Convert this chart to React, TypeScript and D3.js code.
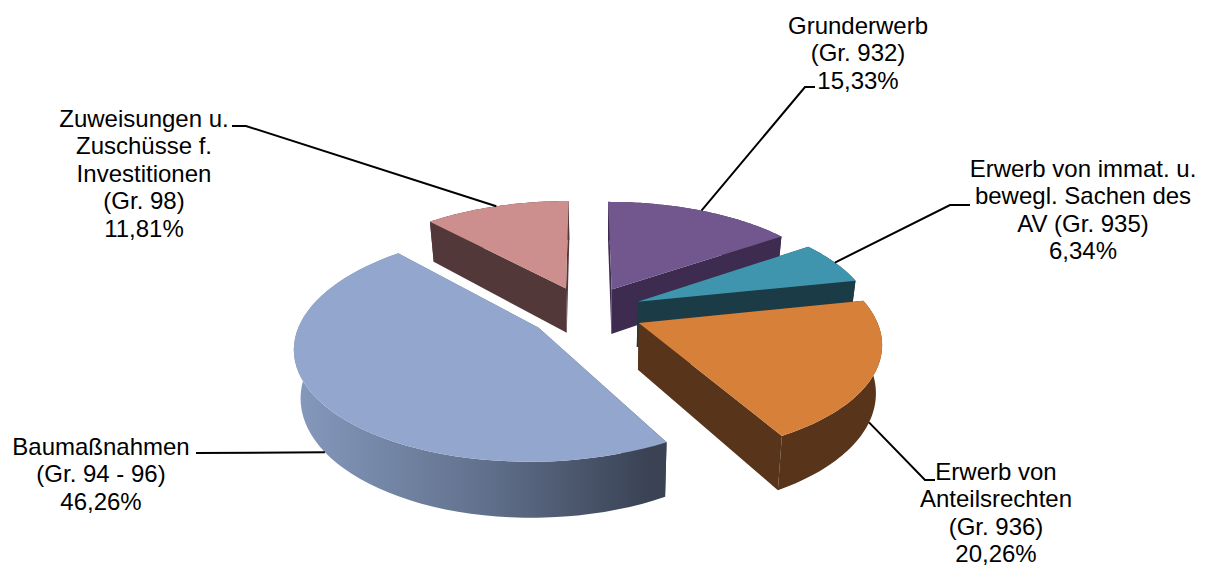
import * as d3 from "d3";

// Budget shares, clockwise from twelve o'clock
const categories = [
  "Grunderwerb",
  "ImmatSachen",
  "Anteilsrechte",
  "Baumassnahmen",
  "Zuweisungen",
];
const shares = [15.33, 6.34, 20.26, 46.26, 11.81];
const labelLines = [
  ["Grunderwerb", "(Gr. 932)"],
  ["Erwerb von immat. u.", "bewegl. Sachen des", "AV (Gr. 935)"],
  ["Erwerb von", "Anteilsrechten", "(Gr. 936)"],
  ["Baumaßnahmen", "(Gr. 94 - 96)"],
  ["Zuweisungen u.", "Zuschüsse f.", "Investitionen", "(Gr. 98)"],
];
const topColors = ["#72578E", "#4095AE", "#D7803A", "#93A7CE", "#CD8F8D"];
const wallColors = ["#3D2B50", "#1B3B46", "#57341A", "url(#frontWall)", "#533839"];
const labelCenters = [
  [858, 25],
  [1083, 168],
  [996, 471],
  [101, 446],
  [144, 118],
];
// Elbow and end of each leader, running out from the slice to its label
const leaderRuns = [
  [[805, 87], [815, 87]],
  [[950, 205], [970, 205]],
  [[925, 480], [935, 480]],
  [[196, 453], [196, 453]],
  [[246, 126], [232, 126]],
];
// Front-facing slices anchor their leader on the lower rim
const leaderOnLowerRim = [false, false, true, true, false];
// Draw order, back to front
const paintOrder = [4, 0, 1, 2, 3];

// Camera and pie geometry
const CX = 586;
const CY = 312;
const SCALE_X = 235;
const SCALE_Y = 107.8;
const PERSPECTIVE = 0.156;
const EXPLODE = 0.243;
const THICKNESS = 46;
const TAPER = 0.978;
const TAPER_X = 600;
const LINE_HEIGHT = 27.6;

type P = [number, number];

const scaleAt = (v: number) => 1 / (1 - PERSPECTIVE * v);
const project = (u: number, v: number): P => [
  CX + SCALE_X * u * scaleAt(v),
  CY + SCALE_Y * v * scaleAt(v),
];
const lower = (u: number, v: number): P => {
  const [x, y] = project(u, v);
  return [TAPER_X + (x - TAPER_X) * TAPER, y + THICKNESS * scaleAt(v)];
};

const path = d3.line<P>().x((d) => d[0]).y((d) => d[1]);
const closed = (pts: P[]) => (path(pts) ?? "") + "Z";

const arcs = d3
  .pie<number>()
  .sort(null)
  .value((d) => d)(shares);

const slices = arcs.map((a, i) => {
  const mid = (a.startAngle + a.endAngle) / 2;
  const ox = Math.sin(mid) * EXPLODE;
  const oy = -Math.cos(mid) * EXPLODE;
  const rim: P[] = d3
    .range(0, 61)
    .map((k) => a.startAngle + ((a.endAngle - a.startAngle) * k) / 60)
    .map((t) => [ox + Math.sin(t), oy - Math.cos(t)] as P);
  const apex: P = [ox, oy];
  const rimTop = rim.map((p) => project(p[0], p[1]));
  const rimLow = rim.map((p) => lower(p[0], p[1]));
  const apexTop = project(apex[0], apex[1]);
  const apexLow = lower(apex[0], apex[1]);
  const midRim: [number, number] = [ox + Math.sin(mid), oy - Math.cos(mid)];
  const anchor = leaderOnLowerRim[i]
    ? lower(midRim[0], midRim[1])
    : project(midRim[0], midRim[1]);
  return {
    i,
    top: closed([apexTop, ...rimTop]),
    outerWall: closed([...rimTop, ...[...rimLow].reverse()]),
    startWall: closed([apexTop, rimTop[0], rimLow[0], apexLow]),
    endWall: closed([
      apexTop,
      rimTop[rimTop.length - 1],
      rimLow[rimLow.length - 1],
      apexLow,
    ]),
    leader: path([anchor, ...(leaderRuns[i] as P[])]) ?? "",
  };
});

const formatShare = (v: number) => v.toFixed(2).replace(".", ",") + "%";

export default function App() {
  return (
    <svg
      width={1211}
      height={566}
      viewBox="0 0 1211 566"
      style={{ position: "fixed", left: 0, top: 0, background: "#fff" }}
    >
      <defs>
        <linearGradient id="frontWall" gradientUnits="userSpaceOnUse" x1={300} x2={650} y1={0} y2={0}>
          <stop offset="0" stopColor="#8498BC" />
          <stop offset="0.5" stopColor="#63738F" />
          <stop offset="1" stopColor="#3A4254" />
        </linearGradient>
      </defs>
      {paintOrder.map((idx) => {
        const s = slices[idx];
        return (
          <g key={categories[idx]}>
            <path d={s.startWall} fill={wallColors[idx]} />
            <path d={s.endWall} fill={wallColors[idx]} />
            <path d={s.outerWall} fill={wallColors[idx]} />
            <path d={s.top} fill={topColors[idx]} />
          </g>
        );
      })}
      {slices.map((s) => (
        <path key={s.i} d={s.leader} fill="none" stroke="#000" strokeWidth={2} />
      ))}
      {labelLines.map((lines, i) => (
        <text
          key={categories[i]}
          fontFamily="'Liberation Sans', Arial, sans-serif"
          fontSize={24}
          fill="#000"
          textAnchor="middle"
        >
          {[...lines, formatShare(shares[i])].map((line, k) => (
            <tspan
              key={k}
              x={labelCenters[i][0]}
              y={labelCenters[i][1] + k * LINE_HEIGHT}
              dominantBaseline="central"
            >
              {line}
            </tspan>
          ))}
        </text>
      ))}
    </svg>
  );
}
